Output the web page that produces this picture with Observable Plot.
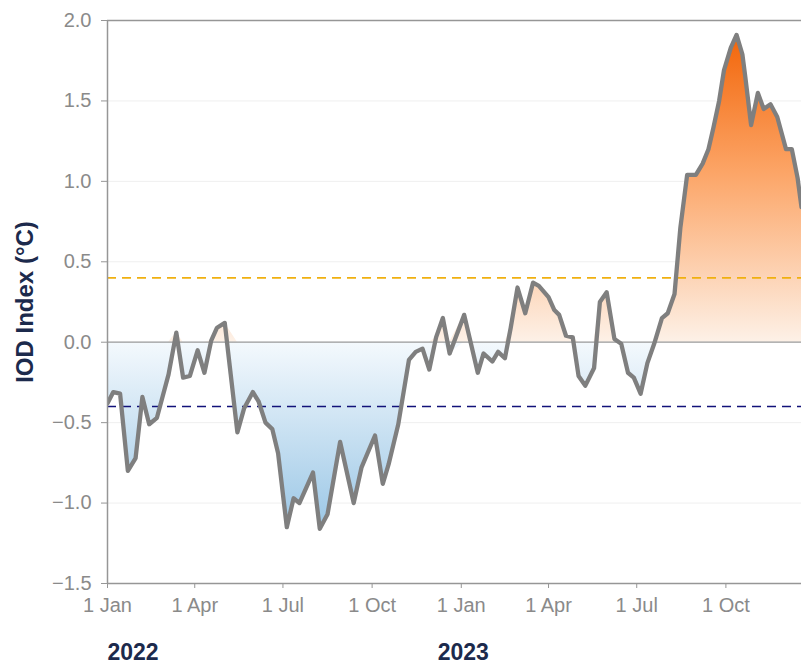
<!DOCTYPE html>
<html>
<head>
<meta charset="utf-8">
<script src="https://cdn.jsdelivr.net/npm/d3@7"></script>
<script src="https://cdn.jsdelivr.net/npm/@observablehq/plot@0.6"></script>
<style>
  html, body { margin: 0; padding: 0; background: #fff; }
  #chart svg { display: block; font-family: "Liberation Sans", Arial, sans-serif; }
</style>
</head>
<body>
<div id="chart"></div>
<script>
const dates = [
  "2022-01-01","2022-01-07","2022-01-14","2022-01-22","2022-01-30","2022-02-06","2022-02-13","2022-02-21",
  "2022-03-05","2022-03-13","2022-03-20","2022-03-27","2022-04-04","2022-04-11","2022-04-18","2022-04-24",
  "2022-05-02","2022-05-15","2022-05-22","2022-05-31","2022-06-06","2022-06-13","2022-06-20","2022-06-26",
  "2022-07-05","2022-07-12","2022-07-18","2022-08-01","2022-08-08","2022-08-16","2022-08-29","2022-09-12",
  "2022-09-20","2022-10-04","2022-10-12","2022-10-18","2022-10-28","2022-11-08","2022-11-15","2022-11-22",
  "2022-11-29","2022-12-06","2022-12-13","2022-12-20","2023-01-04","2023-01-11","2023-01-18","2023-01-24",
  "2023-02-02","2023-02-08","2023-02-15","2023-02-21","2023-02-28","2023-03-08","2023-03-16","2023-03-22",
  "2023-04-01","2023-04-07","2023-04-12","2023-04-19","2023-04-26","2023-05-02","2023-05-09","2023-05-18",
  "2023-05-24","2023-05-31","2023-06-08","2023-06-15","2023-06-22","2023-06-28","2023-07-05","2023-07-12",
  "2023-07-19","2023-07-27","2023-08-02","2023-08-09","2023-08-15","2023-08-22","2023-08-31","2023-09-07",
  "2023-09-13","2023-09-18","2023-09-24","2023-09-29","2023-10-06","2023-10-12","2023-10-18","2023-10-21",
  "2023-10-27","2023-11-03","2023-11-09","2023-11-16","2023-11-23","2023-12-02","2023-12-08","2023-12-14",
  "2023-12-18"
];
const iod = [
  -0.38,-0.31,-0.32,-0.80,-0.72,-0.34,-0.51,-0.47,
  -0.20,0.06,-0.22,-0.21,-0.05,-0.19,0.01,0.09,
  0.12,-0.56,-0.41,-0.31,-0.37,-0.50,-0.54,-0.69,
  -1.15,-0.97,-1.00,-0.81,-1.16,-1.07,-0.62,-1.00,
  -0.78,-0.58,-0.88,-0.76,-0.51,-0.11,-0.06,-0.04,
  -0.17,0.03,0.15,-0.07,0.17,-0.01,-0.19,-0.07,
  -0.12,-0.06,-0.10,0.09,0.34,0.18,0.37,0.35,
  0.28,0.20,0.17,0.04,0.03,-0.21,-0.27,-0.16,
  0.25,0.31,0.02,-0.01,-0.19,-0.22,-0.32,-0.13,
  -0.01,0.15,0.18,0.30,0.71,1.04,1.04,1.11,
  1.20,1.33,1.50,1.69,1.83,1.91,1.79,1.65,
  1.35,1.55,1.45,1.48,1.40,1.20,1.20,1.02,
  0.84
];
const xDomain = ["2022-01-01", "2023-12-18"];
const yDomain = [-1.5, 2.0];
const yTicks = [-1.5, -1.0, -0.5, 0.0, 0.5, 1.0, 1.5, 2.0];
const gridTicks = [-1.0, -0.5, 0.5, 1.0, 1.5];
const xTickDates = ["2022-01-01","2022-04-01","2022-07-01","2022-10-01","2023-01-01","2023-04-01","2023-07-01","2023-10-01"];
const yearLabels = ["2022", "2023"];
const yearDates = ["2022-01-01", "2023-01-01"];
const thresholds = [0.4, -0.4];
const yLabel = "IOD Index (°C)";

const parse = d3.utcParse("%Y-%m-%d");
const data = dates.map((d, i) => ({date: parse(d), v: iod[i]}));

const defs = () => {
  const g = d3.create("svg:defs");
  const o = g.append("linearGradient").attr("id", "gOrange").attr("x1", 0).attr("y1", 0).attr("x2", 0).attr("y2", 1);
  o.append("stop").attr("offset", 0).attr("stop-color", "#f26509");
  o.append("stop").attr("offset", 0.45).attr("stop-color", "#fca567");
  o.append("stop").attr("offset", 1).attr("stop-color", "#fdf1e7");
  const b = g.append("linearGradient").attr("id", "gBlue").attr("x1", 0).attr("y1", 0).attr("x2", 0).attr("y2", 1);
  b.append("stop").attr("offset", 0).attr("stop-color", "#f4f9fd");
  b.append("stop").attr("offset", 1).attr("stop-color", "#9bc7e6");
  return g.node();
};

const chart = Plot.plot({
  width: 801,
  height: 664,
  marginLeft: 107,
  marginRight: 0,
  marginTop: 20,
  marginBottom: 81,
  style: {fontFamily: '"Liberation Sans", Arial, sans-serif', background: "#fff"},
  x: {type: "utc", domain: xDomain.map(parse), axis: null},
  y: {domain: yDomain, axis: null},
  marks: [
    defs,
    Plot.ruleY(gridTicks, {stroke: "#efefef", strokeWidth: 1}),
    Plot.areaY(data, {x: "date", y1: 0, y2: d => Math.min(d.v, 0), fill: "url(#gBlue)", clip: true}),
    Plot.areaY(data, {x: "date", y1: 0, y2: d => Math.max(d.v, 0), fill: "url(#gOrange)", clip: true}),
    Plot.ruleY([0], {stroke: "#9a9a9a", strokeWidth: 1.2}),
    Plot.ruleY([thresholds[0]], {stroke: "#f0b010", strokeWidth: 1.6, strokeDasharray: "9,6"}),
    Plot.ruleY([thresholds[1]], {stroke: "#12127a", strokeWidth: 1.6, strokeDasharray: "9,6"}),
    Plot.lineY(data, {x: "date", y: "v", stroke: "#7f7f7f", strokeWidth: 4.3, strokeLinejoin: "round", strokeLinecap: "round", clip: true}),
    Plot.ruleY([yDomain[1]], {stroke: "#969696", strokeWidth: 1.5}),
    Plot.ruleY([yDomain[0]], {stroke: "#969696", strokeWidth: 1.5}),
    Plot.ruleX([parse(xDomain[0])], {stroke: "#969696", strokeWidth: 1.5}),
    Plot.axisY({ticks: yTicks, tickFormat: d3.format(".1f"), tickSize: 6, tickPadding: 10, stroke: "#969696", fill: "#8a8a8a", fontSize: 20, label: null}),
    Plot.axisX({ticks: xTickDates.map(parse), tickFormat: d3.utcFormat("%-d %b"), tickSize: 5, tickPadding: 9, stroke: "#969696", fill: "#8a8a8a", fontSize: 20, label: null}),
    Plot.text([yLabel], {frameAnchor: "left", textAnchor: "middle", rotate: -90, dx: -82, fontWeight: "bold", fontSize: 24, fill: "#1c2a4c"}),
    Plot.text([yearLabels[0]], {x: [parse(yearDates[0])], frameAnchor: "bottom", dy: 69, textAnchor: "start", lineAnchor: "middle", fontWeight: "bold", fontSize: 23, fill: "#1c2a4c"}),
    Plot.text([yearLabels[1]], {x: [parse(yearDates[1])], frameAnchor: "bottom", dy: 69, dx: 2, textAnchor: "middle", lineAnchor: "middle", fontWeight: "bold", fontSize: 23, fill: "#1c2a4c"})
  ]
});
document.getElementById("chart").appendChild(chart);
</script>
</body>
</html>
